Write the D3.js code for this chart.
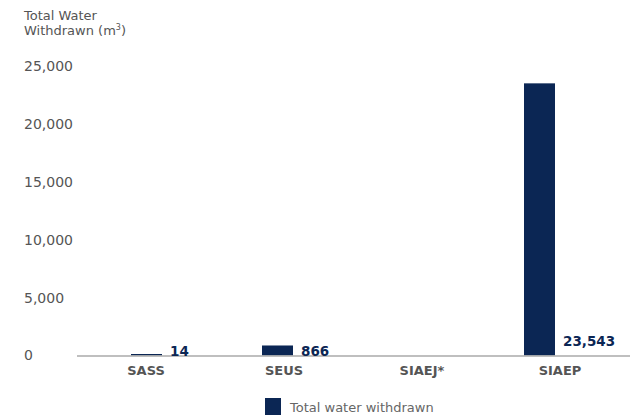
<!DOCTYPE html>
<html>
<head>
<meta charset="utf-8">
<script src="https://cdn.jsdelivr.net/npm/d3@7"></script>
<style>
  body { margin: 0; background: #fff; }
  svg { font-family: "DejaVu Sans", sans-serif; }
</style>
</head>
<body>
<svg id="chart" width="637" height="417"></svg>
<script>
var categories = ["SASS", "SEUS", "SIAEJ*", "SIAEP"];
var withdrawn = [14, 866, null, 23543];
var yTicks = [0, 5000, 10000, 15000, 20000, 25000];
var seriesName = "Total water withdrawn";

var navy = "#0b2654";
var grey = "#555";

var svg = d3.select("#chart");

var y = d3.scaleLinear().domain([0, 25000]).range([355.5, 66.5]);
// bars and category labels sit on slightly different spacings in the original
var xBar = d3.scaleBand().domain(categories).range([131, 555]).paddingInner(100 / 131).paddingOuter(0);
var xLab = d3.scalePoint().domain(categories).range([146, 560]);

// title
var title = svg.append("text").attr("x", 24).attr("y", 20)
    .attr("fill", grey).style("font-size", "13px");
title.append("tspan").attr("x", 24).text("Total Water");
title.append("tspan").attr("x", 24).attr("dy", 15).text("Withdrawn (m");
title.append("tspan").attr("dy", -5).style("font-size", "8px").text("3");
title.append("tspan").attr("dy", 5).text(")");

// y tick labels
svg.append("g").selectAll("text").data(yTicks).enter().append("text")
    .attr("x", 24).attr("y", function(d) { return y(d); })
    .attr("dy", "0.35em")
    .attr("fill", grey).style("font-size", "14px")
    .text(function(d) { return d3.format(",")(d); });

var rows = categories.map(function(c, i) { return { cat: c, v: withdrawn[i] }; })
    .filter(function(d) { return d.v != null; });

// bars
svg.append("g").selectAll("rect").data(rows).enter().append("rect")
    .attr("x", function(d) { return xBar(d.cat); })
    .attr("width", xBar.bandwidth())
    .attr("y", function(d) { return Math.min(y(d.v), y(0) - 1.5); })
    .attr("height", function(d) { return Math.max(y(0) - y(d.v), 1.5); })
    .attr("fill", navy);

// baseline
svg.append("line").attr("x1", 77).attr("x2", 630)
    .attr("y1", y(0) + 0.5).attr("y2", y(0) + 0.5)
    .attr("stroke", "#aaa").attr("stroke-width", 1.5);

// value labels
svg.append("g").selectAll("text").data(rows).enter().append("text")
    .attr("x", function(d) { return xBar(d.cat) + xBar.bandwidth() + 8; })
    .attr("y", function(d) { return d.v > 5000 ? y(0) - 9.5 : y(0); })
    .attr("fill", navy).style("font-size", "13.5px").style("font-weight", "bold")
    .text(function(d) { return d3.format(",")(d.v); });

// category labels
svg.append("g").selectAll("text").data(categories).enter().append("text")
    .attr("x", function(d) { return xLab(d); })
    .attr("y", 375)
    .attr("text-anchor", "middle")
    .attr("fill", grey).style("font-size", "13px").style("font-weight", "bold")
    .text(function(d) { return d; });

// legend
var lg = svg.append("g").attr("transform", "translate(265,398)");
lg.append("rect").attr("width", 16).attr("height", 17).attr("fill", navy);
lg.append("text").attr("x", 25).attr("y", 13.5)
    .attr("fill", "#666").style("font-size", "13px").text(seriesName);
</script>
</body>
</html>
